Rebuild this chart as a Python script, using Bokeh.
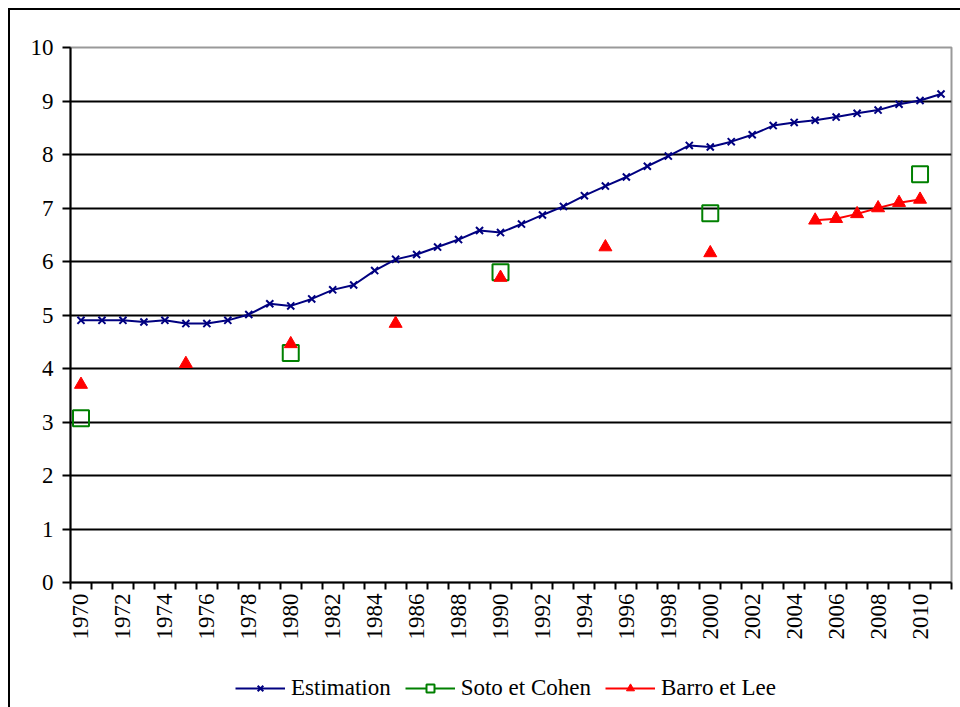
import numpy as np
from bokeh.plotting import figure
from bokeh.layouts import column
from bokeh.models import FixedTicker, Legend, LegendItem, ColumnDataSource, Range1d
from bokeh.embed import file_html
from bokeh.resources import INLINE

years = list(range(1970, 2012))
estimation = [4.90, 4.90, 4.90, 4.87, 4.90, 4.84, 4.84, 4.90, 5.01, 5.21,
              5.17, 5.30, 5.47, 5.56, 5.83, 6.04, 6.13, 6.27, 6.41, 6.58,
              6.54, 6.70, 6.87, 7.03, 7.23, 7.41, 7.58, 7.78, 7.97, 8.17,
              8.14, 8.24, 8.37, 8.54, 8.60, 8.64, 8.70, 8.77, 8.83, 8.94,
              9.01, 9.13]

soto_years = [1970, 1980, 1990, 2000, 2010]
soto = [3.07, 4.29, 5.80, 6.90, 7.63]

barro_years = [1970, 1975, 1980, 1985, 1990, 1995, 2000,
               2005, 2006, 2007, 2008, 2009, 2010]
barro = [3.70, 4.09, 4.46, 4.84, 5.70, 6.27, 6.16,
         6.77, 6.80, 6.89, 7.00, 7.10, 7.16]

series_names = ["Estimation", "Soto et Cohen", "Barro et Lee"]
y_ticks = list(range(0, 11))
x_label_years = list(range(1970, 2011, 2))

FONT = "Liberation Serif"
FS = "23px"
NAVY = "#000080"
GREEN = "#008000"
RED = "#ff0000"

# series placed on the full yearly axis (missing years -> NaN, so lines break)
barro_map = dict(zip(barro_years, barro))
barro_full = [barro_map.get(y, np.nan) for y in years]
soto_map = dict(zip(soto_years, soto))
soto_full = [soto_map.get(y, np.nan) for y in years]

p = figure(width=952, height=640, output_backend="svg", toolbar_location=None,
           x_range=Range1d(1969.5, 2011.5), y_range=Range1d(0, 10),
           min_border_left=60, min_border_right=11, min_border_top=37,
           min_border_bottom=68)
p.background_fill_color = "white"
p.border_fill_color = "white"
p.outline_line_color = "#999999"
p.outline_line_width = 2

# grid
p.xgrid.visible = False
p.ygrid.ticker = FixedTicker(ticks=y_ticks[1:-1])
p.ygrid.grid_line_color = "black"
p.ygrid.grid_line_width = 2

# y axis
p.yaxis.ticker = FixedTicker(ticks=y_ticks)
p.yaxis.axis_line_color = "black"
p.yaxis.axis_line_width = 2
p.yaxis.major_tick_out = 8
p.yaxis.major_tick_in = 0
p.yaxis.major_tick_line_width = 2
p.yaxis.minor_tick_line_color = None
p.yaxis.major_label_standoff = 9
p.yaxis.major_label_text_font = FONT
p.yaxis.major_label_text_font_size = FS
p.yaxis.major_label_text_color = "black"

# x axis (category-style: ticks between years, labels every 2 years)
p.xaxis.ticker = FixedTicker(ticks=x_label_years,
                             minor_ticks=[y - 0.5 for y in range(1970, 2013)])
p.xaxis.axis_line_color = "black"
p.xaxis.axis_line_width = 2
p.xaxis.major_tick_out = 0
p.xaxis.major_tick_in = 0
p.xaxis.minor_tick_out = 7
p.xaxis.minor_tick_in = 0
p.xaxis.minor_tick_line_width = 2
p.xaxis.minor_tick_line_color = "black"
p.xaxis.major_label_orientation = np.pi / 2
p.xaxis.major_label_standoff = 4
p.xaxis.major_label_text_font = FONT
p.xaxis.major_label_text_font_size = FS
p.xaxis.major_label_text_color = "black"

# series
est_src = ColumnDataSource(dict(x=years, y=estimation))
p.line("x", "y", source=est_src, line_color=NAVY, line_width=2)
p.scatter("x", "y", source=est_src, marker="x", size=10,
          line_color=NAVY, line_width=2)

p.line(x=years, y=soto_full, line_color=GREEN, line_width=2)
soto_src = ColumnDataSource(dict(x=soto_years, y=soto))
p.scatter("x", "y", source=soto_src, marker="square", size=16,
          line_color=GREEN, fill_color=None, line_width=2)

p.line(x=years, y=barro_full, line_color=RED, line_width=2)
barro_src = ColumnDataSource(dict(x=barro_years, y=barro))
p.scatter("x", "y", source=barro_src, marker="triangle", size=13,
          line_color=RED, fill_color=RED)

# legend strip below the chart (keys only, no data drawn here)
lf = figure(width=952, height=57, output_backend="svg", toolbar_location=None,
            x_range=Range1d(0, 1), y_range=Range1d(0, 1), min_border=0)
lf.axis.visible = False
lf.grid.visible = False
lf.outline_line_color = None
lf.background_fill_color = "white"
lf.border_fill_color = "white"

k1l = lf.line(x=[np.nan], y=[np.nan], line_color=NAVY, line_width=2)
k1m = lf.scatter(x=[np.nan], y=[np.nan], marker="x", size=10,
                 line_color=NAVY, line_width=2)
k2l = lf.line(x=[np.nan], y=[np.nan], line_color=GREEN, line_width=2)
k2m = lf.scatter(x=[np.nan], y=[np.nan], marker="square", size=12,
                 line_color=GREEN, fill_color="white", line_width=2)
k3l = lf.line(x=[np.nan], y=[np.nan], line_color=RED, line_width=2)
k3m = lf.scatter(x=[np.nan], y=[np.nan], marker="triangle", size=12,
                 line_color=RED, fill_color=RED)

legend = Legend(items=[
    LegendItem(label=series_names[0], renderers=[k1l, k1m]),
    LegendItem(label=series_names[1], renderers=[k2l, k2m]),
    LegendItem(label=series_names[2], renderers=[k3l, k3m]),
], orientation="horizontal", location=(165, 6))
legend.border_line_color = None
legend.background_fill_alpha = 0
legend.label_text_font = FONT
legend.label_text_font_size = FS
legend.label_text_color = "black"
legend.glyph_width = 50
legend.glyph_height = 20
legend.spacing = 14
legend.label_standoff = 6
legend.padding = 0
legend.margin = 0
lf.add_layout(legend, "center")

layout = column(p, lf, spacing=0)
layout.styles = {"border-left": "2px solid black", "border-top": "2px solid black",
                 "margin-left": "8px", "margin-top": "8px"}

open("out.html", "w").write(file_html(layout, INLINE))
